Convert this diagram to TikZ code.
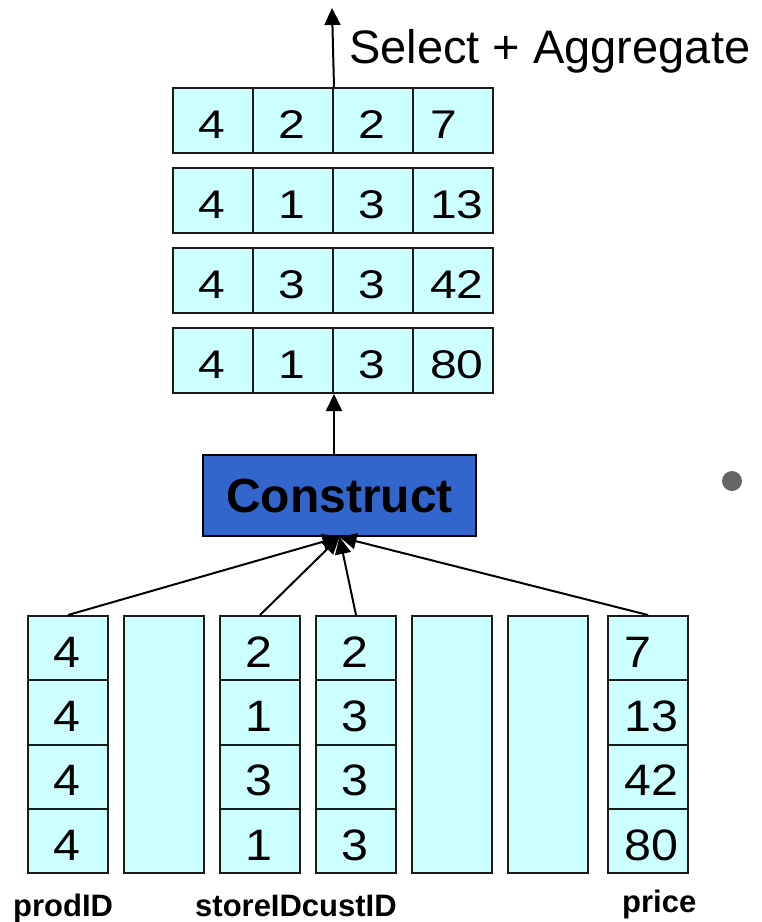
\documentclass[tikz,border=0pt]{standalone}
\usepackage{fontspec}
\setmainfont{Liberation Sans}
\usetikzlibrary{arrows.meta}
\definecolor{cellfill}{HTML}{CCFFFF}
\definecolor{cellline}{HTML}{1A1A1A}
\definecolor{opfill}{HTML}{3366CC}
\definecolor{bulletgray}{HTML}{666666}
\newcommand{\topnum}[1]{\fontsize{40}{48}\selectfont\scalebox{1.2}[1]{#1}}
\newcommand{\colnum}[1]{\fontsize{44}{52}\selectfont\scalebox{1.1}[1]{#1}}
\tikzset{
  cell/.style={draw=cellline, line width=2pt, fill=cellfill, anchor=north west,
    inner sep=0pt, minimum width=80pt},
  rowcell/.style={cell, minimum height=65pt},
  colcell/.style={cell, minimum height=64.25pt},
  emptycol/.style={cell, minimum height=257pt},
  opbox/.style={draw=black, line width=2pt, fill=opfill, inner sep=0pt,
    minimum width=273pt, minimum height=81pt,
    font=\fontsize{48}{56}\selectfont\bfseries},
  numtxt/.style={anchor=base, inner sep=0pt},
  lefttxt/.style={anchor=base west, inner sep=0pt},
  colname/.style={anchor=base west, inner sep=0pt, font=\fontsize{31}{36}\selectfont\bfseries},
  arr/.style={line width=2pt, -{Triangle[length=17pt,width=16pt]}}
}
\begin{document}
\begin{tikzpicture}[x=1pt,y=-1pt]
\useasboundingbox (0,0) rectangle (762,922);

% reconstructed tuples (prodID, storeID, custID, price)
\foreach \r/\ty/\a/\b/\c/\d in {1/87/4/2/2/7, 2/167/4/1/3/13, 3/247/4/3/3/42, 4/327/4/1/3/80}{
  \foreach \k/\v in {1/\a, 2/\b, 3/\c}{
    \node[rowcell] (t\r\k) at ({172+80*(\k-1)},\ty) {};
    \node[numtxt] (n\r\k) at ({212+80*(\k-1)},{\ty+51}) {\topnum{\v}};
  }
  \node[rowcell] (t\r4) at (412,\ty) {};
  \node[lefttxt] (n\r4) at (430,{\ty+51}) {\topnum{\d}};
}

% column store: four data columns and three unused columns
\foreach \k/\cx in {2/123, 5/411, 6/507}{
  \node[emptycol] (c\k) at (\cx,615) {};
}
\foreach \k/\cx/\va/\vb/\vc/\vd in {1/27/4/4/4/4, 3/219/2/1/3/1, 4/315/2/3/3/3}{
  \foreach \i/\v in {1/\va, 2/\vb, 3/\vc, 4/\vd}{
    \node[colcell] (c\k\i) at (\cx,{615+64.25*(\i-1)}) {};
    \node[numtxt] (m\k\i) at ({\cx+40},{615+64.25*\i-12}) {\colnum{\v}};
  }
}
\foreach \i/\v in {1/7, 2/13, 3/42, 4/80}{
  \node[colcell] (c7\i) at (607,{615+64.25*(\i-1)}) {};
  \node[lefttxt] (m7\i) at (624,{615+64.25*\i-12}) {\colnum{\v}};
}

% column names
\node[colname] (lprod) at (13,916) {prodID};
\node[colname] (lstore) at (195,916) {storeIDcustID};
\node[colname] (lprice) at (622,912) {price};

% tuple reconstruction operator
\node[opbox] (construct) at (339.5,495.5) {Construct};

\foreach \k in {1,3,4,7}{
  \draw[arr] (c\k1.north) -- (construct.south);
}
\draw[arr] (t42.south east |- construct.north) -- (t42.south east);

\coordinate (out) at (332,8);
\draw[arr] (t12.north east) -- (out);
\node[anchor=base west, inner sep=0pt, font=\fontsize{47}{56}\selectfont] (selagg) at (349,63) {Select + Aggregate};

% slide bullet
\node[circle, fill=bulletgray, inner sep=0pt, minimum size=20pt] (dot) at (732,481) {};
\end{tikzpicture}
\end{document}
